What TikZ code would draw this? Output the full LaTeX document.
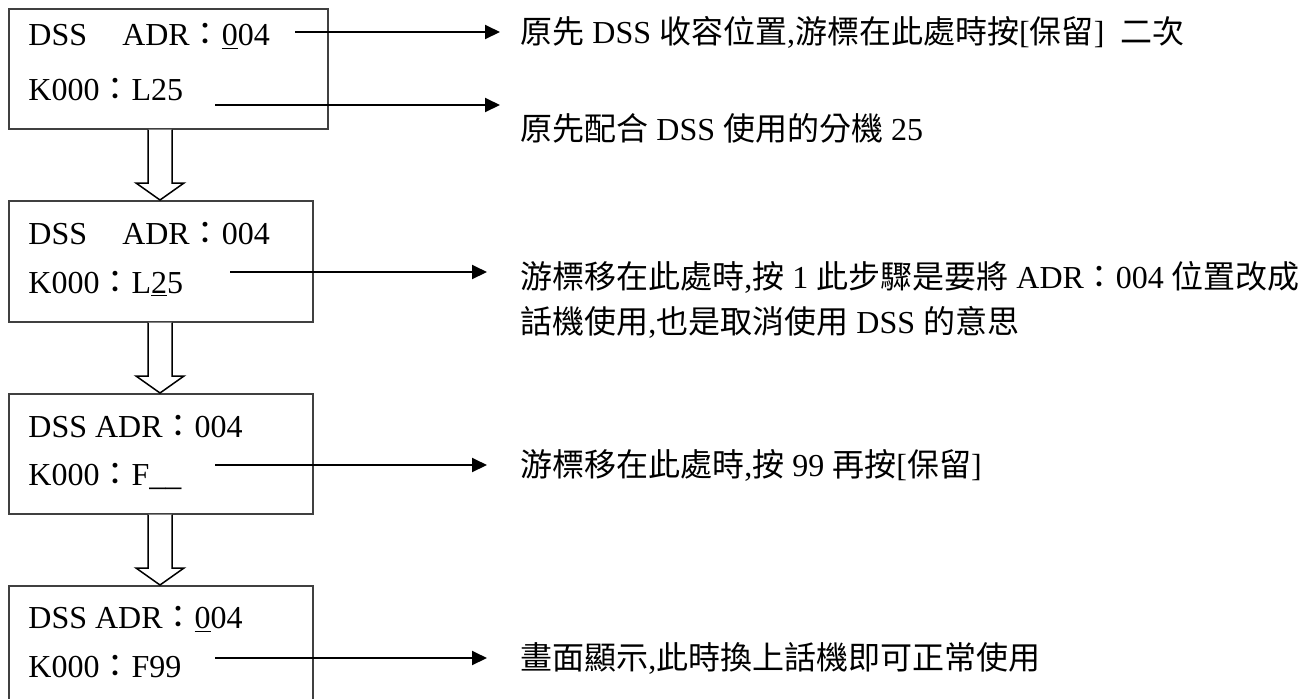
\documentclass[tikz,border=0pt]{standalone}
\usepackage{fontspec}
\setmainfont{Liberation Serif}
\newfontfamily\cjk{Noto Sans CJK TC}
\newcommand{\zh}[1]{{\cjk #1}}
\usetikzlibrary{calc,arrows.meta}

\begin{document}
\begin{tikzpicture}[x=0.5pt,y=-0.5pt,
    scrbox/.style={draw=black!75,line width=0.8pt,fill=white,anchor=north west,inner sep=0pt},
    boxtxt/.style={anchor=base west,inner sep=0pt,font=\fontsize{16}{20}\selectfont},
    note/.style={anchor=base west,inner sep=0pt,font=\fontsize{16}{20}\selectfont},
    conn/.style={line width=1pt,-{Triangle[length=7.5pt,width=7pt]}},
    hollow/.style={draw=black,line width=0.75pt,fill=white}]
\useasboundingbox (0,0) rectangle (1314,698);

% the four screens
\node[scrbox,minimum width=159.5pt,minimum height=60pt] (b1) at (8,8) {};
\node[scrbox,minimum width=152pt,minimum height=60.5pt] (b2) at (8,200) {};
\node[scrbox,minimum width=152pt,minimum height=60pt] (b3) at (8,393) {};
\node[scrbox,minimum width=152pt,minimum height=70pt] (b4) at (8,585) {};

\node[boxtxt] (d1) at (28,45) {DSS\hspace{1.1em}ADR\zh{：}\underline{0}04};
\node[boxtxt] (k1) at (28,100) {K000\zh{：}L25};
\node[boxtxt] (d2) at (28,244) {DSS\hspace{1.1em}ADR\zh{：}004};
\node[boxtxt] (k2) at (28,293) {K000\zh{：}L\underline{2}5};
\node[boxtxt] (d3) at (28,437) {DSS ADR\zh{：}004};
\node[boxtxt] (k3) at (28,485) {K000\zh{：}F\_\_};
\node[boxtxt] (d4) at (28,628) {DSS ADR\zh{：}\underline{0}04};
\node[boxtxt] (k4) at (28,677) {K000\zh{：}F99};

% hollow arrows between screens
\foreach \u/\v in {b1/b2,b2/b3,b3/b4}
  \draw[hollow] let \p1=(\u.south), \p2=(\v.north) in
    (148,\y1) -- (148,\y2+8.5pt) -- (136,\y2+8.5pt) -- (160,\y2)
    -- (184,\y2+8.5pt) -- (172,\y2+8.5pt) -- (172,\y1);

% notes
\node[note] (t1) at (520,43) {\zh{原先} DSS \zh{收容位置},\zh{游標在此處時按}[\zh{保留}]\ \ \zh{二次}};
\node[note] (t2) at (520,140) {\zh{原先配合} DSS \zh{使用的分機} 25};
\node[note] (t3) at (520,288) {\zh{游標移在此處時},\zh{按} 1 \zh{此步驟是要將} ADR\zh{：}004 \zh{位置改成}};
\node[note] (t3b) at (520,333) {\zh{話機使用},\zh{也是取消使用} DSS \zh{的意思}};
\node[note] (t4) at (520,476) {\zh{游標移在此處時},\zh{按} 99 \zh{再按}[\zh{保留}]};
\node[note] (t5) at (520,669) {\zh{畫面顯示},\zh{此時換上話機即可正常使用}};

\coordinate (s1) at (295,32);
\coordinate (s2) at (215,105);
\coordinate (s3) at (230,272);
\coordinate (s4) at (215,465);
\coordinate (s5) at (215,658);

\draw[conn,shorten >=10pt] (s1) -- (s1 -| t1.west);
\draw[conn,shorten >=10pt] (s2) -- (s2 -| t2.west);
\draw[conn,shorten >=16.5pt] (s3) -- (s3 -| t3.west);
\draw[conn,shorten >=16.5pt] (s4) -- (s4 -| t4.west);
\draw[conn,shorten >=16.5pt] (s5) -- (s5 -| t5.west);

\end{tikzpicture}
\end{document}
